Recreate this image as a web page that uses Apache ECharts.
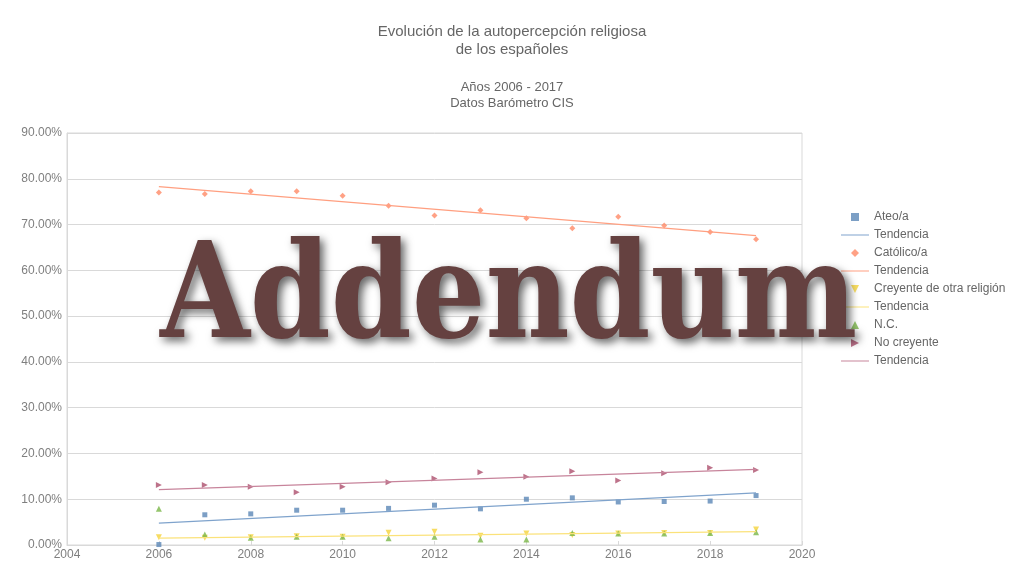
<!DOCTYPE html>
<html>
<head>
<meta charset="utf-8">
<script src="https://cdn.jsdelivr.net/npm/echarts@6/dist/echarts.min.js"></script>
<style>
  body, html { margin: 0; padding: 0; width: 100%; height: 100%; overflow: hidden; background: #fff; }
  #chart { width: 1024px; height: 575px; }
</style>
</head>
<body>
<div id="chart"></div>
<script>
// values (percent)
var years = [2006, 2007, 2008, 2009, 2010, 2011, 2012, 2013, 2014, 2015, 2016, 2017, 2018, 2019];
var ateo = [0.1, 6.6, 6.8, 7.6, 7.6, 8.0, 8.7, 7.9, 10.0, 10.3, 9.4, 9.5, 9.6, 10.8];
var catolico = [77.0, 76.7, 77.3, 77.3, 76.3, 74.1, 72.0, 73.1, 71.4, 69.2, 71.7, 69.8, 68.4, 66.8];
var otraReligion = [1.7, 1.6, 1.7, 1.9, 1.8, 2.7, 2.9, 2.0, 2.5, 2.2, 2.5, 2.6, 2.6, 3.4];
var noContesta = [7.9, 2.3, 1.6, 1.8, 1.8, 1.5, 1.8, 1.2, 1.2, 2.6, 2.5, 2.5, 2.6, 2.8];
var noCreyente = [13.1, 13.1, 12.7, 11.5, 12.7, 13.7, 14.5, 15.9, 14.9, 16.1, 14.1, 15.7, 16.9, 16.4];

// trend line ends (first year, last year)
var trendYears = [2006, 2019];
var trendAteo = [4.8, 11.4];
var trendCatolico = [78.3, 67.6];
var trendOtra = [1.5, 2.9];
var trendNoCreyente = [12.1, 16.5];

var yTicks = { min: 0, max: 90, step: 10 };

function pts(vals) { return years.map(function (y, i) { return [y, vals[i]]; }); }
function trend(vals) { return trendYears.map(function (y, i) { return [y, vals[i]]; }); }

var txt = '#666666';
var font = 'Liberation Sans, Arial, sans-serif';

var SQUARE = 'path://M0,0h10v10h-10z';
var DIAMOND = 'path://M5,0L10,5L5,10L0,5Z';
var TRI_UP = 'path://M5,0L10,10L0,10Z';
var TRI_DOWN = 'path://M0,0L10,0L5,10Z';
var TRI_RIGHT = 'path://M0,0L10,5L0,10Z';
var LINE = 'path://M0,0h28v1h-28z';

var chart = echarts.init(document.getElementById('chart'));
chart.setOption({
  backgroundColor: '#fff',
  animation: false,
  textStyle: { fontFamily: font },
  title: [
    { text: 'Evolución de la autopercepción religiosa\nde los españoles', left: 'center', top: 18,
      textStyle: { fontSize: 15, fontWeight: 'normal', color: txt, lineHeight: 18, fontFamily: font } },
    { text: 'Años 2006 - 2017\nDatos Barómetro CIS', left: 'center', top: 74,
      textStyle: { fontSize: 13, fontWeight: 'normal', color: txt, lineHeight: 16, fontFamily: font } }
  ],
  grid: { left: 67, right: 222, top: 133, bottom: 30, containLabel: false,
          show: true, borderColor: '#d9d9d9', borderWidth: 1 },
  legend: {
    orient: 'vertical', left: 836, top: 206,
    itemWidth: 28, itemHeight: 8, itemGap: 6,
    textStyle: { fontSize: 12, color: txt, fontFamily: font },
    formatter: function (n) { return n.trim(); },
    data: [
      { name: 'Ateo/a', icon: SQUARE },
      { name: 'Tendencia', icon: LINE },
      { name: 'Católico/a', icon: DIAMOND },
      { name: 'Tendencia ', icon: LINE },
      { name: 'Creyente de otra religión', icon: TRI_DOWN },
      { name: 'Tendencia  ', icon: LINE },
      { name: 'N.C.', icon: TRI_UP },
      { name: 'No creyente', icon: TRI_RIGHT },
      { name: 'Tendencia   ', icon: LINE }
    ]
  },
  xAxis: {
    type: 'value', min: 2004, max: 2020, interval: 2,
    splitLine: { show: false },
    axisLine: { lineStyle: { color: '#d9d9d9' } },
    axisTick: { show: true, inside: true, length: 4, lineStyle: { color: '#d9d9d9' } },
    axisLabel: { color: '#7f7f7f', fontSize: 12, margin: 4, fontFamily: font,
                 formatter: function (v) { return String(v); } }
  },
  yAxis: {
    type: 'value', min: yTicks.min, max: yTicks.max, interval: yTicks.step,
    splitLine: { lineStyle: { color: '#d9d9d9' } },
    axisLine: { show: true, lineStyle: { color: '#d9d9d9' } },
    axisTick: { show: false },
    axisLabel: { color: '#7f7f7f', fontSize: 12, margin: 5, fontFamily: font,
                 formatter: function (v) { return v.toFixed(2) + '%'; } }
  },
  series: [
    { name: 'Ateo/a', type: 'scatter', symbol: 'rect', symbolSize: 5, data: pts(ateo),
      itemStyle: { color: '#5b87b7' } },
    { name: 'Tendencia', type: 'line', symbol: 'none', data: trend(trendAteo),
      lineStyle: { color: '#7fa3cc', width: 1.3 }, itemStyle: { color: '#7fa3cc' } },
    { name: 'Católico/a', type: 'scatter', symbol: 'diamond', symbolSize: 6, data: pts(catolico),
      itemStyle: { color: '#ff8a66' } },
    { name: 'Tendencia ', type: 'line', symbol: 'none', data: trend(trendCatolico),
      lineStyle: { color: '#ff9f80', width: 1.3 }, itemStyle: { color: '#ff9f80' } },
    { name: 'Creyente de otra religión', type: 'scatter', symbol: 'triangle', symbolRotate: 180,
      symbolSize: 6, data: pts(otraReligion), itemStyle: { color: '#f5d33b' } },
    { name: 'Tendencia  ', type: 'line', symbol: 'none', data: trend(trendOtra),
      lineStyle: { color: '#fbe27a', width: 1.3 }, itemStyle: { color: '#fbe27a' } },
    { name: 'N.C.', type: 'scatter', symbol: 'triangle', symbolSize: 6, data: pts(noContesta),
      itemStyle: { color: '#7ab648' } },
    { name: 'No creyente', type: 'scatter', symbol: TRI_RIGHT, symbolSize: 6,
      data: pts(noCreyente), itemStyle: { color: '#ad4f6d' } },
    { name: 'Tendencia   ', type: 'line', symbol: 'none', data: trend(trendNoCreyente),
      lineStyle: { color: '#c7849b', width: 1.3 }, itemStyle: { color: '#c7849b' } }
  ],
  graphic: [{
    type: 'text', left: 160, top: 237, z: 100, scaleX: 0.975,
    style: {
      text: 'Addendum',
      font: 'bold 132px "DejaVu Serif Condensed", "DejaVu Serif", serif',
      fill: '#654140',
      textShadowColor: 'rgba(0,0,0,0.6)', textShadowBlur: 8,
      textShadowOffsetX: 4, textShadowOffsetY: 4,
      shadowColor: 'rgba(0,0,0,0.6)', shadowBlur: 8, shadowOffsetX: 4, shadowOffsetY: 4
    }
  }]
});
</script>
</body>
</html>
